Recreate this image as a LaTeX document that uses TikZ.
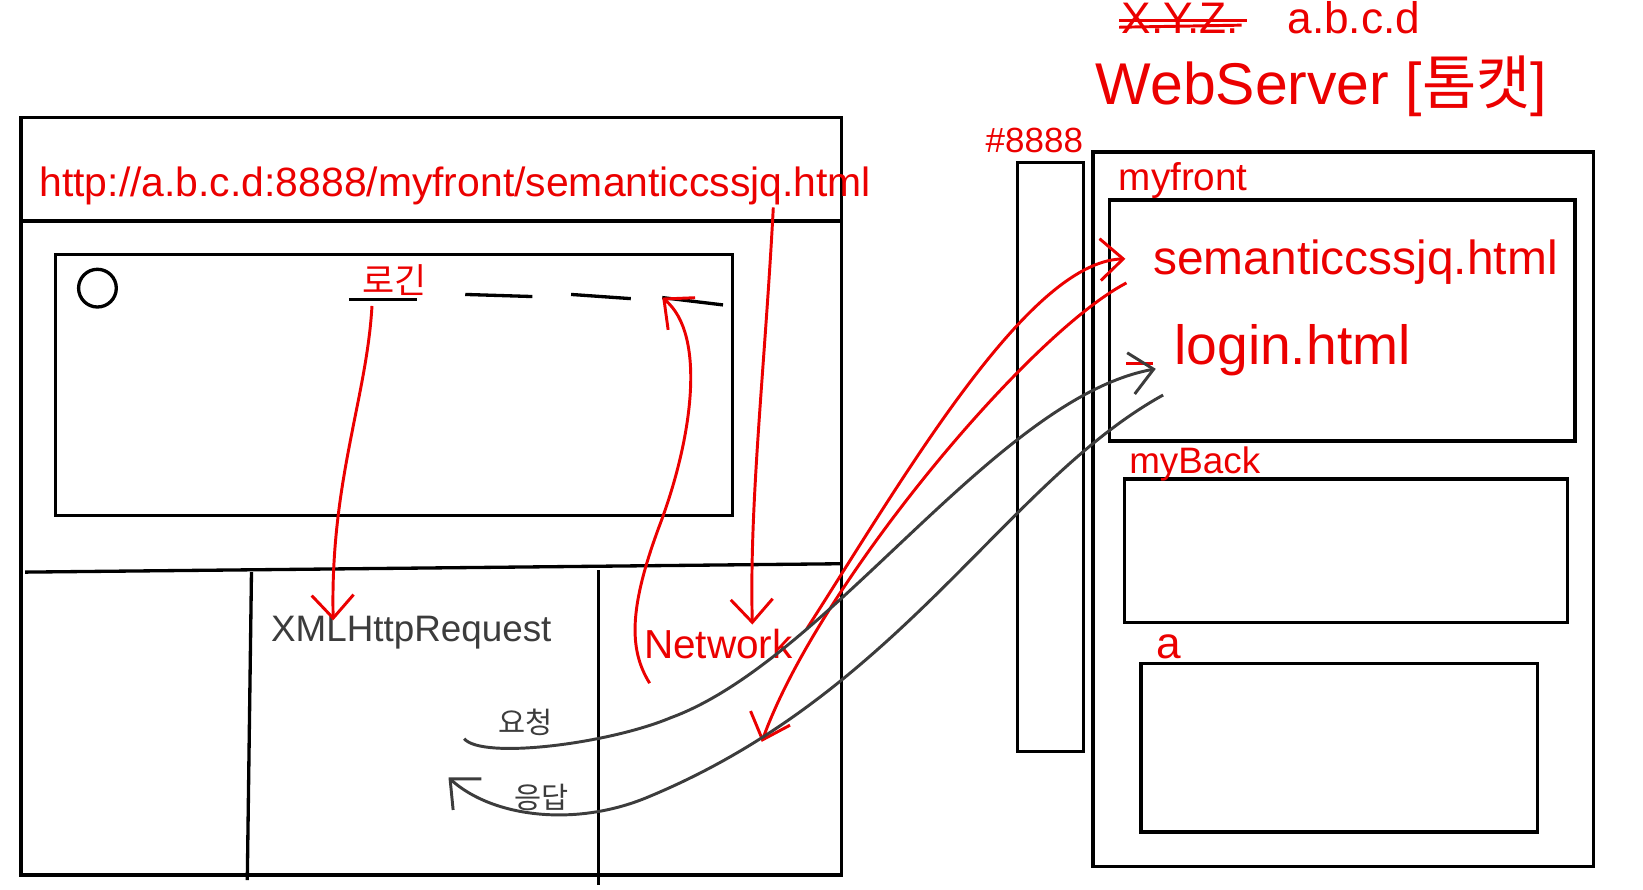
\documentclass[tikz,border=0pt]{standalone}
\usepackage{fontspec}
\setmainfont{Liberation Sans}
\newfontfamily\krfont{Noto Sans CJK KR}
\usetikzlibrary{arrows.meta}
\definecolor{penred}{RGB}{235,0,0}
\definecolor{pengray}{RGB}{60,60,60}

\begin{document}
\begin{tikzpicture}[
    x=1cm, y=-1cm,
    frame/.style={draw=black, line width=0.9pt},
    redtxt/.style={text=penred, inner sep=0pt, anchor=base west},
    graytxt/.style={text=pengray, inner sep=0pt, anchor=base west},
    redarrow/.style={draw=penred, line width=0.8pt, -{Straight Barb[length=2.2mm,width=4mm]}},
    grayarrow/.style={draw=pengray, line width=0.8pt, -{Straight Barb[length=2.2mm,width=4mm]}}
]
  \useasboundingbox (0,0) rectangle (15.68,8.49);

  % ===== Browser (left) =====
  \draw[frame] (0.20,1.12) rectangle (8.03,8.35);
  \draw[frame] (0.20,2.11) -- (8.03,2.11);
  \draw[frame] (0.53,2.43) rectangle (6.99,4.92);
  \draw[frame] (0.93,2.75) circle (0.18);
  % login form fields
  \draw[frame] (3.33,2.86) -- (3.98,2.86);
  \draw[frame] (4.44,2.81) -- (5.08,2.83);
  \draw[frame] (5.45,2.81) -- (6.02,2.85);
  \coordinate (loginbtn) at (6.32,2.84);
  \draw[frame] (loginbtn) -- (6.90,2.91);
  % dev tools panel
  \draw[frame] (0.24,5.46) -- (8.03,5.38);
  \draw[frame] (2.40,5.46) -- (2.36,8.40);
  \draw[frame] (5.71,5.44) -- (5.71,8.45);

  \node[redtxt, font=\fontsize{11.1}{13}\selectfont] (url) at (0.37,1.88)
    {http://a.b.c.d:8888/myfront/semanticcssjq.html};
  \node[redtxt, font=\krfont\fontsize{9.5}{11}\selectfont] (logintxt) at (3.45,2.80) {로긴};
  \node[graytxt, font=\fontsize{10}{12}\selectfont] (xhr) at (2.58,6.12) {XMLHttpRequest};
  \node[redtxt, font=\fontsize{11}{13}\selectfont] (network) at (6.14,6.28) {Network};
  \node[graytxt, font=\krfont\fontsize{8}{10}\selectfont] (req) at (4.75,7.00) {요청};
  \node[graytxt, font=\krfont\fontsize{8}{10}\selectfont] (res) at (4.90,7.72) {응답};

  % ===== Web server (right) =====
  \draw[frame] (9.71,1.55) rectangle (10.34,7.17);
  \draw[frame] (10.43,1.45) rectangle (15.21,8.27);
  \draw[frame] (10.59,1.91) rectangle (15.03,4.21);
  \draw[frame] (10.73,4.57) rectangle (14.96,5.94);
  \draw[frame] (10.89,6.33) rectangle (14.67,7.94);

  \node[redtxt, font=\fontsize{12}{14}\selectfont] (xyz) at (10.70,0.32) {X.Y.Z.};
  \draw[penred, line width=0.8pt] (10.68,0.20) -- (11.90,0.20);
  \draw[penred, line width=0.8pt] (10.68,0.26) -- (11.85,0.24);
  \node[redtxt, font=\fontsize{12}{14}\selectfont] (ip) at (12.28,0.32) {a.b.c.d};
  \node[redtxt, font=\fontsize{16}{19}\selectfont] (server) at (10.45,1.00)
    {WebServer [{\krfont 톰캣}]};
  \node[redtxt, font=\fontsize{9.5}{12}\selectfont] (port) at (9.40,1.46) {\#8888};
  \node[redtxt, font=\fontsize{10.5}{12}\selectfont] (front) at (10.67,1.82) {myfront};
  \node[redtxt, font=\fontsize{10}{12}\selectfont] (back) at (10.77,4.52) {myBack};
  \node[redtxt, font=\fontsize{12}{14}\selectfont] (ctxa) at (11.03,6.28) {a};
  \node[redtxt, font=\fontsize{13}{15}\selectfont] (sem) at (11.00,2.62) {semanticcssjq.html};
  \node[redtxt, font=\fontsize{15}{17}\selectfont] (login) at (11.20,3.48) {login.html};
  \draw[penred, line width=0.8pt] (10.75,3.47) -- (11.00,3.47);

  % ===== arrows =====
  \coordinate (urltail) at (7.38,1.98);
  \coordinate (netin) at (7.18,5.96);
  \coordinate (netfoot) at (6.20,6.52);
  \coordinate (logintail) at (3.55,2.92);
  \coordinate (xhrin) at (3.18,5.92);
  \coordinate (netout) at (7.70,6.00);
  \coordinate (semin) at (10.74,2.47);
  \coordinate (semtail) at (10.75,2.70);
  \coordinate (netback) at (7.27,7.08);
  \coordinate (reqtail) at (4.43,7.05);
  \coordinate (loginin) at (11.03,3.52);
  \coordinate (logintail2) at (11.10,3.77);
  \coordinate (resin) at (4.28,7.42);

  \draw[redarrow] (urltail) .. controls (7.30,3.50) and (7.15,4.80) .. (netin);
  \draw[redarrow] (netfoot) .. controls (6.00,6.20) and (6.00,5.80) .. (6.30,5.00)
    .. controls (6.60,4.20) and (6.75,3.20) .. (loginbtn);
  \draw[redarrow] (logintail) .. controls (3.50,3.80) and (3.15,4.60) .. (xhrin);
  \draw[redarrow] (netout) .. controls (8.60,4.60) and (9.80,2.50) .. (semin);
  \draw[redarrow] (semtail) .. controls (9.80,3.20) and (7.80,5.60) .. (netback);
  \draw[grayarrow] (reqtail) .. controls (4.60,7.25) and (5.80,7.10) .. (6.40,6.85)
    .. controls (7.90,6.30) and (9.50,3.80) .. (loginin);
  \draw[grayarrow] (logintail2) .. controls (9.60,4.60) and (8.60,6.60) .. (6.20,7.60)
    .. controls (5.50,7.90) and (4.70,7.80) .. (resin);
\end{tikzpicture}
\end{document}
